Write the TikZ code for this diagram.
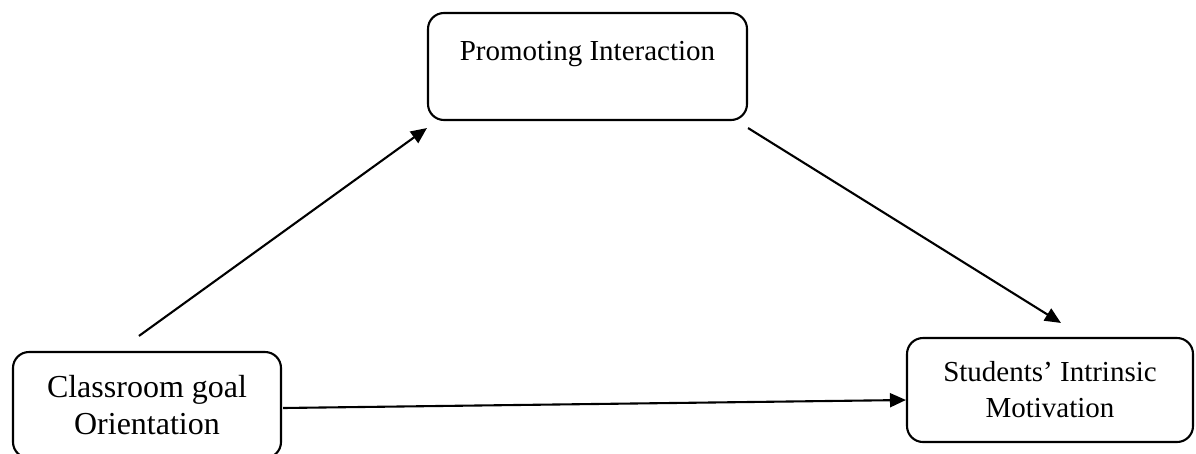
\documentclass[tikz,border=0pt]{standalone}
\usepackage{fontspec}
\setmainfont{Liberation Serif}
\usetikzlibrary{calc,arrows.meta}
\tikzset{
  box/.style={draw, line width=2.1pt, rounded corners=16pt, align=center, inner sep=0pt},
  conn/.style={line width=2.1pt, -{Triangle[length=16pt,width=14pt]}}
}
\begin{document}
\begin{tikzpicture}[x=1pt,y=-1pt]
\useasboundingbox (0,0) rectangle (1196,453);
\clip (0,0) rectangle (1196,453);
\node[box, minimum width=319pt, minimum height=107pt, text height=19pt, text depth=32pt,
      font=\fontsize{29}{36}\selectfont] (pi) at (587.5,66.5) {Promoting Interaction};
\node[box, minimum width=268pt, minimum height=106pt,
      font=\fontsize{32}{37}\selectfont] (cgo) at (147,405) {Classroom goal\\Orientation};
\node[box, minimum width=286pt, minimum height=104pt,
      font=\fontsize{29}{36}\selectfont] (smi) at (1050,390) {Students’ Intrinsic\\Motivation};
\coordinate (a1s) at ($(cgo.north west)+(127,-15)$);
\coordinate (a1e) at ($(pi.south west)+(0,7)$);
\coordinate (a2s) at ($(pi.south east)+(0,7)$);
\coordinate (a2e) at ($(smi.north west)+(155,-14)$);
\coordinate (a3s) at ($(cgo.east)+(1,3)$);
\coordinate (a3e) at ($(smi.west)+(0,10)$);
\draw[conn] (a1s) -- (a1e);
\draw[conn] (a2s) -- (a2e);
\draw[conn] (a3s) -- (a3e);
\end{tikzpicture}
\end{document}
